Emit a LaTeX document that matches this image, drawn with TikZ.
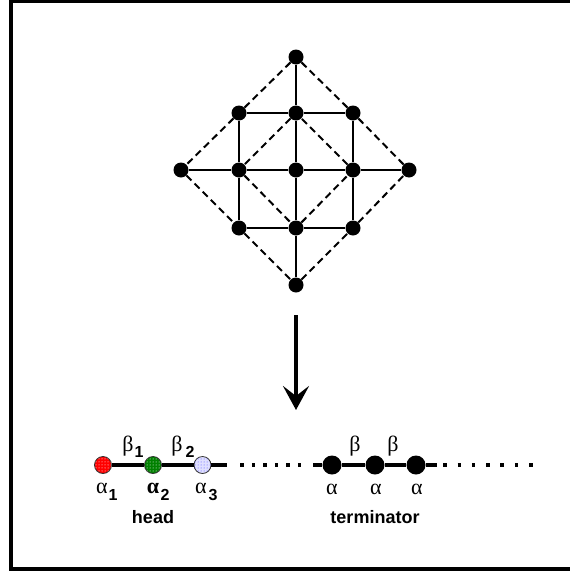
\documentclass[tikz,border=0pt]{standalone}
\usepackage{fontspec}
\setmainfont{Liberation Serif}
\setsansfont{Liberation Sans}
\usetikzlibrary{arrows.meta,patterns}
\begin{document}
\begin{tikzpicture}[x=1pt,y=-1pt,
  gnode/.style={circle,fill=black,inner sep=0pt,minimum size=15pt},
  knode/.style={circle,fill=black,inner sep=0pt,minimum size=19pt},
  cnode/.style={circle,draw=black!80,line width=0.8pt,inner sep=0pt,minimum size=17pt},
  solidedge/.style={line width=2.3pt},
  dashedge/.style={line width=2pt,dash pattern=on 7pt off 4.5pt},
  chain/.style={line width=4.5pt},
  dotline/.style={line width=3.5pt},
  greek/.style={font=\fontsize{22}{22}\selectfont,inner sep=0pt},
  sub/.style={font=\sffamily\bfseries\fontsize{16}{16}\selectfont,inner sep=0pt},
  lbl/.style={font=\sffamily\bfseries\fontsize{18}{18}\selectfont,inner sep=0pt},
]
\useasboundingbox (0,0) rectangle (570,573);
\clip (0,0) rectangle (570,573);
\draw[line width=4pt] (11,1) rectangle (600,569.3);

% lattice nodes
\node[gnode] (t)  at (296,57) {};
\node[gnode] (a1) at (239,113) {};
\node[gnode] (a2) at (296,113) {};
\node[gnode] (a3) at (353,113) {};
\node[gnode] (l)  at (181,170) {};
\node[gnode] (b1) at (239,170) {};
\node[gnode] (b2) at (296,170) {};
\node[gnode] (b3) at (353,170) {};
\node[gnode] (r)  at (409,170) {};
\node[gnode] (c1) at (239,228) {};
\node[gnode] (c2) at (296,228) {};
\node[gnode] (c3) at (353,228) {};
\node[gnode] (bt) at (296,285) {};

% solid edges
\draw[solidedge] (t) -- (a2) -- (b2) -- (c2) -- (bt);
\draw[solidedge] (a1) -- (a2) -- (a3);
\draw[solidedge] (l) -- (b1) -- (b2) -- (b3) -- (r);
\draw[solidedge] (c1) -- (c2) -- (c3);
\draw[solidedge] (a1) -- (b1) -- (c1);
\draw[solidedge] (a3) -- (b3) -- (c3);

% dashed diamonds
\draw[dashedge] (t) -- (a1) -- (l) -- (c1) -- (bt) -- (c3) -- (r) -- (a3) -- (t);
\draw[dashedge] (a2) -- (b1) -- (c2) -- (b3) -- (a2);

% arrow
\coordinate (arrtop) at (296,315);
\coordinate (arrtip) at (296,410);
\draw[line width=4.2pt,-{Stealth[length=24pt,width=26pt,inset=10pt]}] (arrtop) -- (arrtip);

% head chain
\coordinate (hend) at (227,465);
\node[cnode,fill=red,postaction={pattern=dots,pattern color=white}] (hr) at (103,465) {};
\node[cnode,fill=green!50!black,postaction={pattern=dots,pattern color=white}] (hg) at (153,465) {};
\node[cnode,fill=blue!12,postaction={pattern=dots,pattern color=blue!70}] (hb) at (202.5,465) {};
\draw[chain] (hr) -- (hg) -- (hb) -- (hend);
\coordinate (d1s) at (240.25,465);
\coordinate (d1e) at (303.25,465);
\draw[dotline,dash pattern=on 3.5pt off 8pt] (d1s) -- (d1e);

% terminator chain
\coordinate (ts) at (313,465);
\coordinate (te) at (437,465);
\node[knode] (k1) at (332,465) {};
\node[knode] (k2) at (375,465) {};
\node[knode] (k3) at (416,465) {};
\draw[chain] (ts) -- (k1) -- (k2) -- (k3) -- (te);
\coordinate (d2s) at (443.25,465);
\coordinate (d2e) at (533,465);
\draw[dotline,dash pattern=on 3.5pt off 10.8pt] (d2s) -- (d2e);

% labels head
\node[greek] (beta1) at (128,446) {β};
\node[sub] (sb1) at (139,452) {1};
\node[greek] (beta2) at (177,446) {β};
\node[sub] (sb2) at (190,452) {2};
\node[greek] (alpha1) at (102,488) {α};
\node[sub] (sa1) at (113,495) {1};
\node[greek] (alpha2) at (153,488) {\textbf{α}};
\node[sub] (sa2) at (165,495) {2};
\node[greek] (alpha3) at (201,488) {α};
\node[sub] (sa3) at (213,495) {3};
\node[lbl] (head) at (153,517) {head};

% labels terminator
\node[greek] (tb1) at (355,446) {β};
\node[greek] (tb2) at (393,446) {β};
\node[greek] (ta1) at (332,489) {α};
\node[greek] (ta2) at (376,489) {α};
\node[greek] (ta3) at (417,489) {α};
\node[lbl] (term) at (375,517) {terminator};
\end{tikzpicture}
\end{document}
